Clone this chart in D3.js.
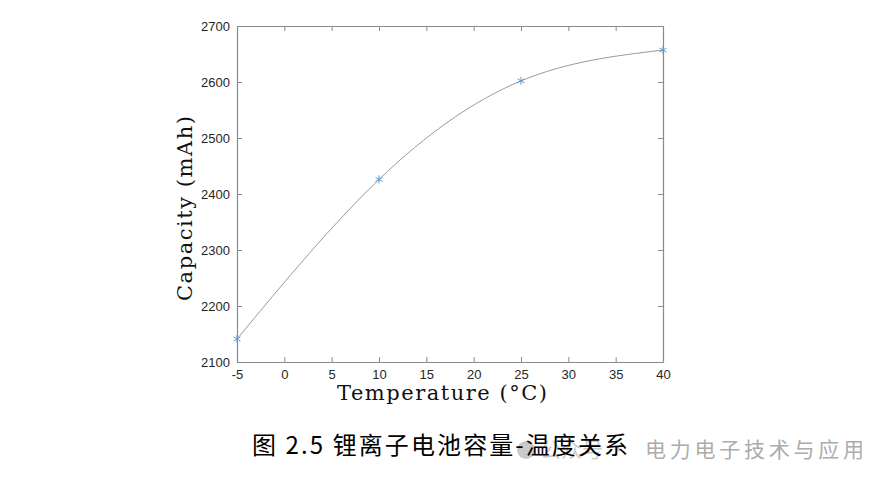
<!DOCTYPE html>
<html>
<head>
<meta charset="utf-8">
<script src="https://cdn.jsdelivr.net/npm/d3@7"></script>
<style>
  body { margin: 0; background: #fff; }
</style>
</head>
<body>
<div id="plot"></div>
<script>
const w = 894;
const h = 485;
const margin = { top: 26, right: 231, bottom: 123, left: 237 };
const innerWidth = w - margin.left - margin.right;
const innerHeight = h - margin.top - margin.bottom;

// measured points (temperature in degC, capacity in mAh)
const temps = [-5, 10, 25, 40];
const capacity = [2141, 2426, 2602, 2657];
const xTicks = [-5, 0, 5, 10, 15, 20, 25, 30, 35, 40];
const yTicks = [2100, 2200, 2300, 2400, 2500, 2600, 2700];

const data = temps.map((t, i) => ({ t: t, c: capacity[i] }));

const svg = d3.select("div#plot")
  .append("svg")
  .attr("width", w)
  .attr("height", h);

const xScale = d3.scaleLinear()
  .domain([-5, 40])
  .range([0, innerWidth]);

const yScale = d3.scaleLinear()
  .domain([2100, 2700])
  .range([innerHeight, 0]);

const plotGroup = svg.append("g")
  .attr("transform", `translate(${margin.left}, ${margin.top})`);

const axisColor = "#8a8a8a";
const tickFont = "'Liberation Sans', Arial, sans-serif";
const plain = d => String(d);

function styleAxis(g, showLabels) {
  g.select(".domain").attr("stroke", axisColor).attr("stroke-width", 1.2);
  g.selectAll(".tick line").attr("stroke", axisColor);
  g.selectAll(".tick text")
    .attr("fill", "#262626")
    .attr("font-family", tickFont)
    .attr("font-size", "13px");
  if (!showLabels) g.selectAll(".tick text").remove();
}

// bottom + left with labels, top + right mirrored ticks only
plotGroup.append("g")
  .attr("transform", `translate(0, ${innerHeight})`)
  .call(d3.axisBottom(xScale).tickValues(xTicks).tickFormat(plain).tickSizeInner(-5).tickSizeOuter(0).tickPadding(8))
  .call(g => styleAxis(g, true));

plotGroup.append("g")
  .call(d3.axisTop(xScale).tickValues(xTicks).tickSizeInner(-5).tickSizeOuter(0))
  .call(g => styleAxis(g, false));

plotGroup.append("g")
  .call(d3.axisLeft(yScale).tickValues(yTicks).tickFormat(plain).tickSizeInner(-5).tickSizeOuter(0).tickPadding(7))
  .call(g => styleAxis(g, true));

plotGroup.append("g")
  .attr("transform", `translate(${innerWidth}, 0)`)
  .call(d3.axisRight(yScale).tickValues(yTicks).tickSizeInner(-5).tickSizeOuter(0))
  .call(g => styleAxis(g, false));

const line = d3.line()
  .x(d => xScale(d.t))
  .y(d => yScale(d.c))
  .curve(d3.curveNatural);

plotGroup.append("path")
  .datum(data)
  .attr("d", line)
  .attr("fill", "none")
  .attr("stroke", "#9a9a9a")
  .attr("stroke-width", 1);

plotGroup.selectAll(".pt")
  .data(data)
  .enter()
  .append("path")
  .attr("class", "pt")
  .attr("transform", d => `translate(${xScale(d.t)}, ${yScale(d.c)})`)
  .attr("d", d3.symbol(d3.symbolAsterisk, 45))
  .attr("fill", "none")
  .attr("stroke", "#5a9bd8")
  .attr("stroke-width", 1);

// axis titles
svg.append("text")
  .attr("x", 337)
  .attr("y", 400)
  .attr("font-family", "'DejaVu Serif', serif")
  .attr("font-size", "21px")
  .attr("textLength", 210)
  .attr("lengthAdjust", "spacing")
  .attr("fill", "#111")
  .text("Temperature (\u00B0C)");

svg.append("text")
  .attr("transform", "translate(192, 301) rotate(-90)")
  .attr("font-family", "'DejaVu Serif', serif")
  .attr("font-size", "21px")
  .attr("textLength", 185)
  .attr("lengthAdjust", "spacing")
  .attr("fill", "#111")
  .text("Capacity (mAh)");

// watermark (drawn under the caption)
const wm = svg.append("g").attr("opacity", 0.45);
wm.append("circle")
  .attr("cx", 526).attr("cy", 450).attr("r", 9)
  .attr("fill", "#8a8a8a");
wm.append("text")
  .attr("x", 540)
  .attr("y", 457)
  .attr("font-family", "'Noto Sans CJK SC', sans-serif")
  .attr("font-size", "21px")
  .attr("fill", "#8a8a8a")
  .text("公众号 ·");
svg.append("text")
  .attr("x", 645)
  .attr("y", 457)
  .attr("font-family", "'Noto Sans CJK SC', sans-serif")
  .attr("font-size", "21px")
  .attr("textLength", 219)
  .attr("lengthAdjust", "spacing")
  .attr("fill", "#acacac")
  .text("电力电子技术与应用");

// figure caption
svg.append("text")
  .attr("x", 252)
  .attr("y", 454)
  .attr("font-family", "'Noto Sans CJK SC', sans-serif")
  .attr("font-size", "24px")
  .attr("textLength", 376)
  .attr("lengthAdjust", "spacing")
  .attr("fill", "#000")
  .text("图 2.5  锂离子电池容量-温度关系");
</script>
</body>
</html>
